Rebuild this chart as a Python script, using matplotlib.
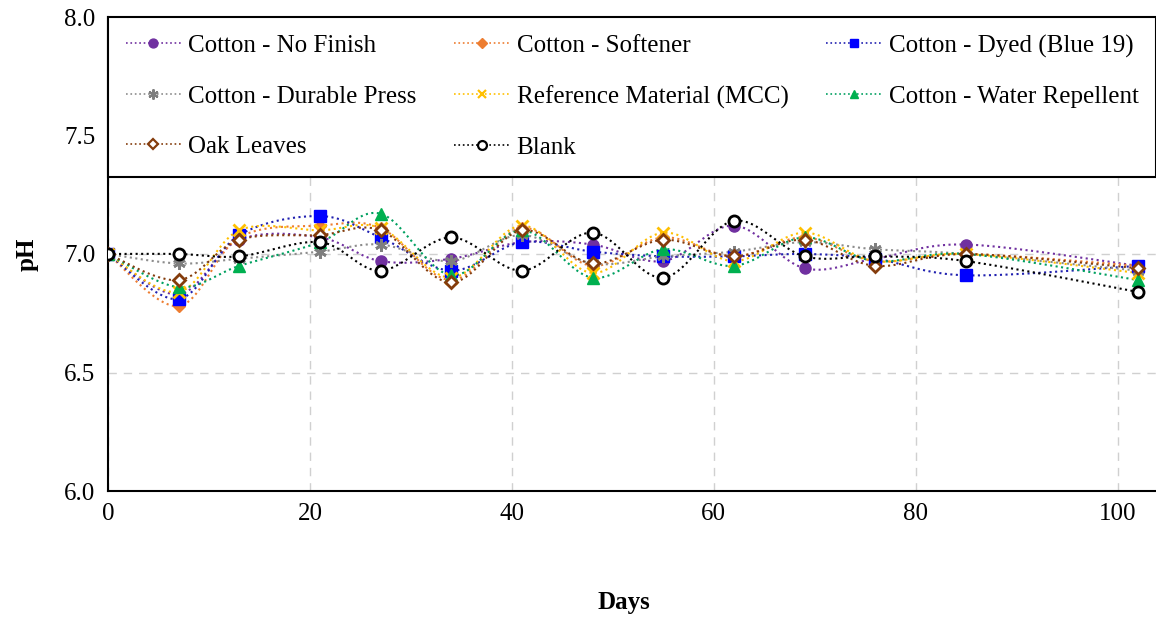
import numpy as np
import matplotlib
matplotlib.use("Agg")
import matplotlib.pyplot as plt
from matplotlib.lines import Line2D

plt.rcParams["font.family"] = ["Liberation Serif", "DejaVu Serif"]

days = [0, 7, 13, 21, 27, 34, 41, 48, 55, 62, 69, 76, 85, 102]

no_finish = [7.00, 6.83, 7.06, 7.07, 6.97, 6.98, 7.05, 7.04, 6.97, 7.12, 6.94, 6.98, 7.04, 6.95]
softener = [7.00, 6.78, 7.07, 7.12, 7.11, 6.89, 7.11, 6.95, 7.07, 6.99, 7.07, 6.97, 7.00, 6.95]
dyed = [7.00, 6.81, 7.08, 7.16, 7.07, 6.93, 7.05, 7.01, 6.99, 6.99, 7.00, 6.98, 6.91, 6.95]
durable = [7.00, 6.96, 6.98, 7.01, 7.04, 6.97, 7.08, 6.96, 6.99, 7.01, 7.05, 7.02, 7.00, 6.93]
reference = [7.00, 6.84, 7.10, 7.10, 7.11, 6.90, 7.12, 6.92, 7.09, 6.97, 7.09, 6.97, 7.00, 6.92]
repellent = [7.00, 6.86, 6.95, 7.05, 7.17, 6.91, 7.10, 6.90, 7.02, 6.95, 7.07, 6.97, 7.00, 6.89]
oak = [7.00, 6.89, 7.06, 7.08, 7.10, 6.88, 7.10, 6.96, 7.06, 6.99, 7.06, 6.95, 7.00, 6.94]
blank = [7.00, 7.00, 6.99, 7.05, 6.93, 7.07, 6.93, 7.09, 6.90, 7.14, 6.99, 6.99, 6.97, 6.84]

labels = ["Cotton - No Finish", "Cotton - Softener", "Cotton - Dyed (Blue 19)",
          "Cotton - Durable Press", "Reference Material (MCC)", "Cotton - Water Repellent",
          "Oak Leaves", "Blank"]
series = [no_finish, softener, dyed, durable, reference, repellent, oak, blank]

# (line colour, marker, marker face, marker edge, size)
styles = [
    ("#7030A0", "o", "#7030A0", "#7030A0", 8),
    ("#ED7D31", "D", "#ED7D31", "#ED7D31", 6),
    ("#2020B0", "s", "#0000FF", "#0000FF", 8),
    ("#8C8C8C", (6, 2, 0), "#7F7F7F", "#7F7F7F", 9),
    ("#FFC000", "x", "#FFC000", "#FFC000", 8),
    ("#00A060", "^", "#00B050", "#00B050", 8),
    ("#843C0C", "D", "white", "#843C0C", 6),
    ("black", "o", "white", "black", 8),
]


def smooth(x, y, n=30):
    """Bezier smoothing through the points (Excel style)."""
    p = np.column_stack([x, y]).astype(float)
    pts = [p[0]]
    for i in range(len(p) - 1):
        p0 = p[max(i - 1, 0)]
        p1, p2 = p[i], p[i + 1]
        p3 = p[min(i + 2, len(p) - 1)]
        c1 = p1 + (p2 - p0) / 6
        c2 = p2 - (p3 - p1) / 6
        t = np.linspace(0, 1, n)[1:, None]
        seg = ((1 - t) ** 3) * p1 + 3 * ((1 - t) ** 2) * t * c1 + 3 * (1 - t) * t ** 2 * c2 + t ** 3 * p2
        pts.extend(seg)
    pts = np.array(pts)
    return pts[:, 0], pts[:, 1]


fig = plt.figure(figsize=(11.56, 6.17), dpi=100)
ax = fig.add_axes([108 / 1156, 1 - 491 / 617, 1 - 108 / 1156, (491 - 17) / 617])

handles = []
for lab, ys, (lc, mk, mf, me, ms) in zip(labels, series, styles):
    sx, sy = smooth(days, ys)
    thick = mf == "white" or mk in ("x", (6, 2, 0))
    ax.plot(sx, sy, ls=":", lw=1.5, color=lc, zorder=2)
    ax.plot(days, ys, ls="none", marker=mk, ms=ms, mfc=mf, mec=me,
            mew=2 if thick else 1, zorder=3)
    handles.append(Line2D([], [], ls=":", lw=1.2, color=lc, marker=mk, ms=ms * 0.8,
                          mfc=mf, mec=me, mew=1.6 if thick else 1, label=lab))

ax.set_xlim(0, 103.8)
ax.set_ylim(6.0, 8.0)
ax.set_xticks([0, 20, 40, 60, 80, 100])
ax.set_yticks([6.0, 6.5, 7.0, 7.5, 8.0])
ax.set_yticklabels(["6.0", "6.5", "7.0", "7.5", "8.0"])
ax.tick_params(length=0, labelsize=18, pad=9)
ax.grid(True, ls=(0, (6, 5)), color="#D0D0D0", lw=1)
ax.set_axisbelow(True)
for s in ["top", "right"]:
    ax.spines[s].set_visible(False)
for s in ["left", "bottom"]:
    ax.spines[s].set_linewidth(1.5)

fig.text(624 / 1156, 1 - 603 / 617, "Days", fontsize=18, fontweight="bold",
         ha="center", va="center")
fig.text(27 / 1156, 1 - 254 / 617, "pH", fontsize=18, fontweight="bold",
         ha="center", va="center", rotation=90)

# matplotlib fills legend columns first; reorder so rows read like the original
order = [0, 3, 6, 1, 4, 7, 2, 5]
leg = ax.legend(handles=[handles[i] for i in order], ncol=3, mode="expand",
                loc="upper left", bbox_to_anchor=(0, 0, 1, 1), fontsize=18,
                frameon=True, fancybox=False, framealpha=1, edgecolor="black",
                handlelength=2.2, labelspacing=1.12, borderpad=0.7,
                handletextpad=0.3, borderaxespad=0)
leg.get_frame().set_linewidth(1.5)
leg.set_zorder(5)

fig.savefig("out.png", dpi=100, facecolor="white")
